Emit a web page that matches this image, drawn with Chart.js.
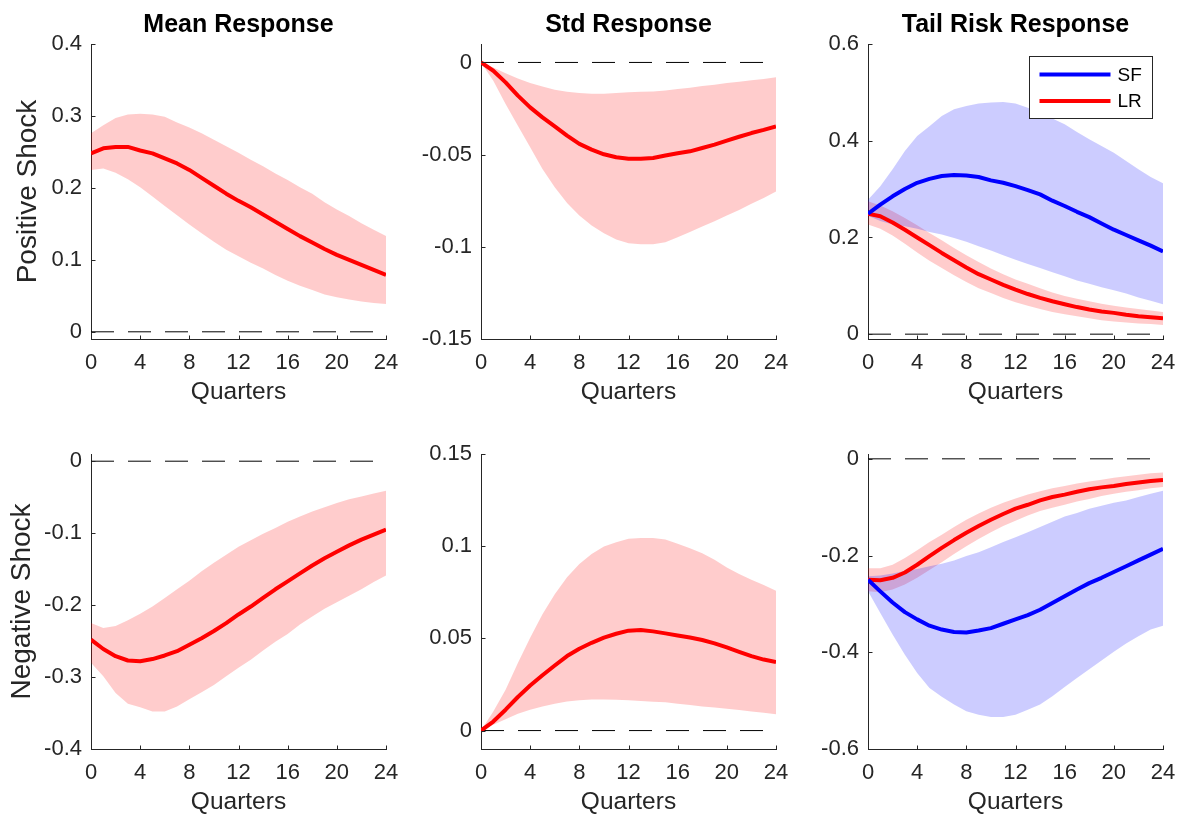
<!DOCTYPE html>
<html>
<head>
<meta charset="utf-8">
<script src="https://cdn.jsdelivr.net/npm/chart.js@4.4.0/dist/chart.umd.min.js"></script>
<style>
  body { margin: 0; background: #fff; width: 1177px; height: 814px; position: relative; overflow: hidden; }
  canvas { position: absolute; }
</style>
</head>
<body>
<canvas id="p0"></canvas>
<canvas id="p1"></canvas>
<canvas id="p2"></canvas>
<canvas id="p3"></canvas>
<canvas id="p4"></canvas>
<canvas id="p5"></canvas>
<script>
// labels
const colTitles = ["Mean Response", "Std Response", "Tail Risk Response"];
const rowLabels = ["Positive Shock", "Negative Shock"];
const xLabel = "Quarters";
const seriesNames = ["SF", "LR"];

const quarters = [0,1,2,3,4,5,6,7,8,9,10,11,12,13,14,15,16,17,18,19,20,21,22,23,24];
const xTicks = [0, 4, 8, 12, 16, 20, 24];

// positive shock, mean
const meanPos      = [0.248,0.255,0.257,0.257,0.252,0.248,0.241,0.234,0.225,0.214,0.203,0.192,0.182,0.173,0.163,0.153,0.143,0.133,0.124,0.115,0.107,0.100,0.093,0.086,0.079];
const meanPosUpper = [0.276,0.287,0.297,0.302,0.303,0.302,0.299,0.291,0.284,0.276,0.267,0.258,0.249,0.239,0.230,0.220,0.211,0.201,0.192,0.180,0.170,0.161,0.151,0.142,0.133];
const meanPosLower = [0.225,0.227,0.221,0.212,0.201,0.188,0.175,0.162,0.149,0.137,0.125,0.114,0.105,0.096,0.088,0.079,0.071,0.064,0.058,0.052,0.048,0.045,0.042,0.040,0.0385];

// positive shock, std
const stdPos      = [0,-0.0045,-0.0108,-0.018,-0.0244,-0.0298,-0.0347,-0.0397,-0.0442,-0.0473,-0.0498,-0.0514,-0.0522,-0.0523,-0.0518,-0.0505,-0.0493,-0.0482,-0.0464,-0.0446,-0.0424,-0.0403,-0.0383,-0.0366,-0.0347];
const stdPosUpper = [0,-0.0027,-0.0058,-0.0087,-0.0112,-0.013,-0.0148,-0.0159,-0.0166,-0.017,-0.017,-0.0166,-0.0162,-0.0159,-0.0157,-0.0152,-0.0144,-0.0137,-0.0128,-0.0121,-0.0112,-0.0105,-0.0097,-0.009,-0.0081];
const stdPosLower = [0,-0.0099,-0.0226,-0.0343,-0.046,-0.0578,-0.0677,-0.0762,-0.083,-0.0884,-0.0926,-0.096,-0.098,-0.0986,-0.0986,-0.0975,-0.0948,-0.092,-0.089,-0.0861,-0.083,-0.080,-0.0767,-0.0735,-0.070];

// positive shock, tail risk
const tailPosSF      = [0.249,0.268,0.285,0.300,0.313,0.321,0.327,0.329,0.328,0.325,0.318,0.313,0.306,0.298,0.289,0.276,0.265,0.253,0.242,0.229,0.216,0.205,0.194,0.183,0.171];
const tailPosSFUpper = [0.278,0.306,0.341,0.379,0.410,0.430,0.451,0.465,0.472,0.477,0.479,0.480,0.477,0.468,0.458,0.446,0.434,0.418,0.403,0.389,0.375,0.358,0.341,0.325,0.312];
const tailPosSFLower = [0.245,0.234,0.227,0.223,0.218,0.211,0.206,0.199,0.191,0.182,0.173,0.163,0.154,0.145,0.137,0.128,0.120,0.111,0.104,0.097,0.091,0.084,0.076,0.069,0.062];
const tailPosLR      = [0.249,0.244,0.231,0.216,0.200,0.184,0.168,0.153,0.138,0.124,0.113,0.102,0.092,0.083,0.075,0.068,0.062,0.056,0.051,0.047,0.044,0.040,0.037,0.035,0.033];
const tailPosLRUpper = [0.275,0.266,0.254,0.240,0.225,0.209,0.194,0.178,0.163,0.149,0.136,0.124,0.113,0.104,0.095,0.086,0.079,0.073,0.068,0.063,0.059,0.055,0.052,0.049,0.046];
const tailPosLRLower = [0.227,0.218,0.204,0.187,0.169,0.152,0.137,0.122,0.108,0.095,0.085,0.075,0.066,0.059,0.052,0.046,0.041,0.037,0.033,0.029,0.026,0.024,0.022,0.021,0.019];

// negative shock, mean
const meanNeg      = [-0.248,-0.261,-0.271,-0.277,-0.278,-0.275,-0.270,-0.264,-0.255,-0.246,-0.236,-0.225,-0.213,-0.202,-0.190,-0.178,-0.167,-0.156,-0.145,-0.135,-0.126,-0.117,-0.109,-0.102,-0.095];
const meanNegUpper = [-0.225,-0.232,-0.229,-0.221,-0.212,-0.202,-0.190,-0.178,-0.166,-0.153,-0.141,-0.130,-0.119,-0.110,-0.101,-0.093,-0.084,-0.077,-0.070,-0.064,-0.058,-0.053,-0.049,-0.045,-0.041];
const meanNegLower = [-0.280,-0.299,-0.322,-0.337,-0.342,-0.348,-0.348,-0.341,-0.331,-0.321,-0.311,-0.299,-0.287,-0.276,-0.263,-0.251,-0.240,-0.227,-0.216,-0.205,-0.196,-0.187,-0.178,-0.168,-0.159];

// negative shock, std
const stdNeg      = [0,0.0049,0.0113,0.0182,0.0244,0.030,0.0353,0.0404,0.0444,0.0476,0.0504,0.0525,0.0542,0.0545,0.0538,0.0527,0.0516,0.0505,0.0491,0.0473,0.0451,0.0427,0.0404,0.0385,0.0371];
const stdNegUpper = [0,0.0104,0.0222,0.0367,0.0504,0.0631,0.074,0.0831,0.0904,0.0958,0.0998,0.1022,0.104,0.1045,0.1044,0.1036,0.1013,0.0989,0.0962,0.0927,0.0885,0.0849,0.0818,0.0789,0.0758];
const stdNegLower = [0,0.0031,0.0062,0.0091,0.0113,0.0131,0.0145,0.0158,0.0164,0.0169,0.0169,0.0167,0.0164,0.016,0.0156,0.0153,0.0145,0.0138,0.0131,0.0125,0.0118,0.0111,0.0104,0.0096,0.0089];

// negative shock, tail risk
const tailNegSF      = [-0.250,-0.274,-0.297,-0.317,-0.332,-0.345,-0.353,-0.358,-0.359,-0.355,-0.350,-0.341,-0.332,-0.323,-0.312,-0.298,-0.284,-0.270,-0.257,-0.246,-0.234,-0.222,-0.210,-0.198,-0.186];
const tailNegSFUpper = [-0.243,-0.241,-0.237,-0.232,-0.228,-0.222,-0.217,-0.210,-0.201,-0.193,-0.183,-0.172,-0.162,-0.152,-0.141,-0.130,-0.119,-0.112,-0.103,-0.097,-0.091,-0.086,-0.079,-0.072,-0.066];
const tailNegSFLower = [-0.274,-0.319,-0.363,-0.405,-0.443,-0.474,-0.492,-0.508,-0.522,-0.529,-0.534,-0.534,-0.529,-0.519,-0.508,-0.491,-0.472,-0.453,-0.435,-0.417,-0.399,-0.382,-0.367,-0.353,-0.345];
const tailNegLR      = [-0.250,-0.251,-0.246,-0.235,-0.219,-0.201,-0.184,-0.168,-0.153,-0.139,-0.126,-0.114,-0.103,-0.095,-0.086,-0.079,-0.074,-0.068,-0.063,-0.059,-0.056,-0.052,-0.049,-0.046,-0.044];
const tailNegLRUpper = [-0.226,-0.226,-0.219,-0.205,-0.189,-0.172,-0.157,-0.141,-0.126,-0.113,-0.101,-0.091,-0.082,-0.074,-0.067,-0.061,-0.056,-0.051,-0.047,-0.043,-0.039,-0.036,-0.033,-0.030,-0.028];
const tailNegLRLower = [-0.274,-0.276,-0.270,-0.260,-0.246,-0.230,-0.214,-0.197,-0.181,-0.166,-0.152,-0.139,-0.128,-0.117,-0.108,-0.101,-0.095,-0.088,-0.083,-0.077,-0.072,-0.068,-0.065,-0.061,-0.058];

// y tick labels per panel
const yTicksMeanPos = [0, 0.1, 0.2, 0.3, 0.4];
const yTicksStdPos  = [-0.15, -0.1, -0.05, 0];
const yTicksTailPos = [0, 0.2, 0.4, 0.6];
const yTicksMeanNeg = [-0.4, -0.3, -0.2, -0.1, 0];
const yTicksStdNeg  = [0, 0.05, 0.1, 0.15];
const yTicksTailNeg = [-0.6, -0.4, -0.2, 0];

const RED = "#ff0000", BLUE = "#0000ff";
const RED_BAND = "rgba(255,0,0,0.2)", BLUE_BAND = "rgba(0,0,255,0.2)";
const AXIS = "#262626";
const FONT = "'Liberation Sans', Arial, Helvetica, sans-serif";
Chart.defaults.font.family = FONT;

const plotLefts = [91, 481, 868];
const plotTops = [44, 454];
const canvasW = 400, canvasH = 404, yAxisW = 91, xAxisH = 65, plotW = 295;

function pts(ys) {
  return ys.map((y, i) => ({ x: quarters[i], y: y }));
}

// tick marks pointing into the plot, like the original
const innerTicks = {
  id: "innerTicks",
  afterDatasetsDraw(chart) {
    const { ctx, chartArea: a, scales: { x, y } } = chart;
    const len = 4;
    ctx.save();
    ctx.strokeStyle = AXIS;
    ctx.lineWidth = 1;
    ctx.beginPath();
    x.ticks.forEach(t => {
      const px = Math.round(x.getPixelForValue(t.value)) + 0.5;
      ctx.moveTo(px, a.bottom + 0.5);
      ctx.lineTo(px, a.bottom + 0.5 - len);
    });
    y.ticks.forEach(t => {
      const py = Math.round(y.getPixelForValue(t.value)) + 0.5;
      ctx.moveTo(a.left + 0.5, py);
      ctx.lineTo(a.left + 0.5 + len, py);
    });
    ctx.stroke();
    ctx.restore();
  }
};

// boxed legend in the upper right of the plot
const boxLegend = {
  id: "boxLegend",
  afterDraw(chart, args, opts) {
    if (!opts || !opts.items) return;
    const { ctx, chartArea: a } = chart;
    const bx = Math.round(a.right - 134) + 0.5, by = Math.round(a.top + 12) + 0.5;
    const bw = 123, bh = 62;
    ctx.save();
    ctx.fillStyle = "#fff";
    ctx.fillRect(bx, by, bw, bh);
    ctx.strokeStyle = AXIS;
    ctx.lineWidth = 1;
    ctx.strokeRect(bx, by, bw, bh);
    opts.items.forEach((it, i) => {
      const ly = by + 18 + i * 26.5;
      ctx.strokeStyle = it.color;
      ctx.lineWidth = 4;
      ctx.beginPath();
      ctx.moveTo(bx + 10, ly);
      ctx.lineTo(bx + 81, ly);
      ctx.stroke();
      ctx.fillStyle = "#000";
      ctx.font = "19px " + FONT;
      ctx.textBaseline = "middle";
      ctx.textAlign = "left";
      ctx.fillText(it.label, bx + 88, ly + 1);
    });
    ctx.restore();
  }
};

function lineSet(label, ys, color) {
  return { label: label, data: pts(ys), borderColor: color, borderWidth: 4, pointRadius: 0,
           tension: 0, fill: false, borderJoinStyle: "round" };
}

function makePanel(id, col, row, p) {
  const canvas = document.getElementById(id);
  canvas.width = canvasW;
  canvas.height = canvasH;
  canvas.style.left = (plotLefts[col] - yAxisW) + "px";
  canvas.style.top = (plotTops[row] - 44) + "px";

  const datasets = [];
  p.lines.forEach(l => datasets.push(lineSet(l.label, l.data, l.color)));
  p.bands.forEach(b => {
    const lowerIndex = datasets.length + 1;
    datasets.push({ label: "upper", data: pts(b.upper), borderWidth: 0, borderColor: "rgba(0,0,0,0)",
                    pointRadius: 0, tension: 0, fill: lowerIndex, backgroundColor: b.fill });
    datasets.push({ label: "lower", data: pts(b.lower), borderWidth: 0, borderColor: "rgba(0,0,0,0)",
                    pointRadius: 0, tension: 0, fill: false });
  });
  datasets.push({ label: "zero", data: [{ x: quarters[0], y: 0 }, { x: quarters[quarters.length - 1], y: 0 }],
                  borderColor: "#000", borderWidth: 1, borderDash: [23, 14], pointRadius: 0, fill: false });

  new Chart(canvas, {
    type: "line",
    data: { datasets: datasets },
    plugins: [innerTicks, boxLegend],
    options: {
      responsive: false,
      animation: false,
      devicePixelRatio: 1,
      layout: { padding: { top: row === 0 ? 0 : 44, right: canvasW - yAxisW - plotW, bottom: 0, left: 0 } },
      plugins: {
        legend: { display: false },
        tooltip: { enabled: false },
        title: {
          display: row === 0, text: colTitles[col], fullSize: false, color: "#000",
          font: { size: 25, weight: "bold", lineHeight: 1.2 }, padding: { top: 10, bottom: 4 }
        },
        boxLegend: p.legend ? { items: p.legend } : {}
      },
      scales: {
        x: {
          type: "linear", min: 0, max: 24,
          afterBuildTicks: s => { s.ticks = xTicks.map(v => ({ value: v })); },
          afterFit: s => { s.height = xAxisH; s.paddingLeft = 0; s.paddingRight = 0; },
          grid: { display: false, drawTicks: false },
          border: { display: true, color: AXIS, width: 1 },
          ticks: { color: AXIS, font: { size: 22 }, padding: 11, maxRotation: 0, autoSkip: false },
          title: { display: true, text: xLabel, color: AXIS, font: { size: 24.5, lineHeight: 1 }, padding: { top: 0, bottom: 0 } }
        },
        y: {
          type: "linear", min: p.yMin, max: p.yMax,
          afterBuildTicks: s => { s.ticks = p.yTicks.map(v => ({ value: v })); },
          afterFit: s => { s.width = yAxisW; },
          grid: { display: false, drawTicks: false },
          border: { display: true, color: AXIS, width: 1 },
          ticks: { color: AXIS, font: { size: 22 }, padding: 9, autoSkip: false,
                   callback: v => String(Math.round(v * 1000) / 1000) },
          title: { display: col === 0, text: rowLabels[row], color: AXIS, font: { size: 28, lineHeight: 1.2 },
                   padding: { top: row === 0 ? 11.5 : 5.2, bottom: 0 } }
        }
      }
    }
  });
}

makePanel("p0", 0, 0, {
  lines: [{ label: "mean", data: meanPos, color: RED }],
  bands: [{ upper: meanPosUpper, lower: meanPosLower, fill: RED_BAND }],
  yMin: -0.01, yMax: 0.4, yTicks: yTicksMeanPos
});
makePanel("p1", 1, 0, {
  lines: [{ label: "std", data: stdPos, color: RED }],
  bands: [{ upper: stdPosUpper, lower: stdPosLower, fill: RED_BAND }],
  yMin: -0.15, yMax: 0.01, yTicks: yTicksStdPos
});
makePanel("p2", 2, 0, {
  lines: [{ label: seriesNames[0], data: tailPosSF, color: BLUE }, { label: seriesNames[1], data: tailPosLR, color: RED }],
  bands: [{ upper: tailPosSFUpper, lower: tailPosSFLower, fill: BLUE_BAND },
          { upper: tailPosLRUpper, lower: tailPosLRLower, fill: RED_BAND }],
  yMin: -0.01, yMax: 0.6, yTicks: yTicksTailPos,
  legend: [{ label: seriesNames[0], color: BLUE }, { label: seriesNames[1], color: RED }]
});
makePanel("p3", 0, 1, {
  lines: [{ label: "mean", data: meanNeg, color: RED }],
  bands: [{ upper: meanNegUpper, lower: meanNegLower, fill: RED_BAND }],
  yMin: -0.4, yMax: 0.01, yTicks: yTicksMeanNeg
});
makePanel("p4", 1, 1, {
  lines: [{ label: "std", data: stdNeg, color: RED }],
  bands: [{ upper: stdNegUpper, lower: stdNegLower, fill: RED_BAND }],
  yMin: -0.01, yMax: 0.15, yTicks: yTicksStdNeg
});
makePanel("p5", 2, 1, {
  lines: [{ label: seriesNames[0], data: tailNegSF, color: BLUE }, { label: seriesNames[1], data: tailNegLR, color: RED }],
  bands: [{ upper: tailNegSFUpper, lower: tailNegSFLower, fill: BLUE_BAND },
          { upper: tailNegLRUpper, lower: tailNegLRLower, fill: RED_BAND }],
  yMin: -0.6, yMax: 0.01, yTicks: yTicksTailNeg
});
</script>
</body>
</html>
